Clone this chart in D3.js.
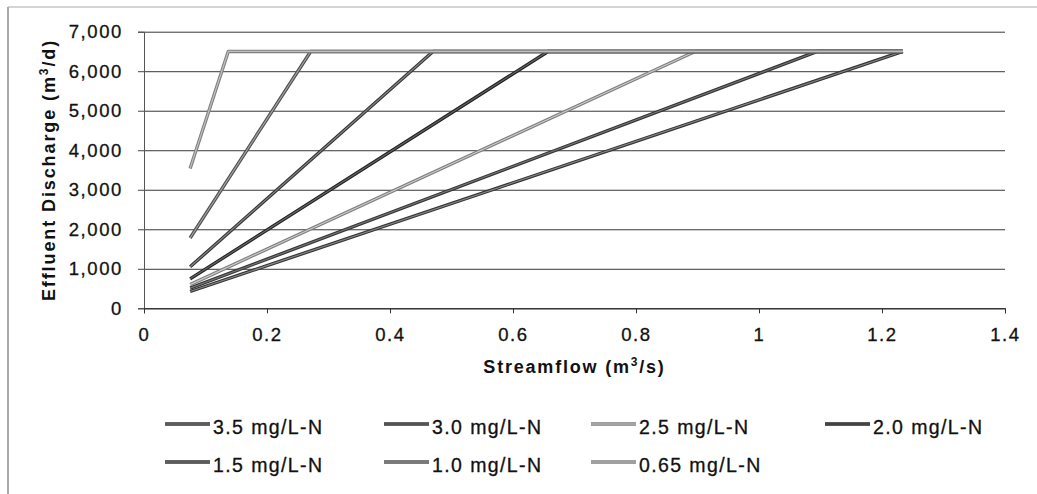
<!DOCTYPE html>
<html>
<head>
<meta charset="utf-8">
<script src="https://cdn.jsdelivr.net/npm/d3@7"></script>
<style>
  body { margin: 0; background: #fff; }
  text { font-family: "Liberation Sans", Arial, sans-serif; fill: #111; }
  .scan { stroke: #111; stroke-width: 0.3px; }
</style>
</head>
<body>
<div id="wrapper"></div>
<script>
// Series: each line rises from the first flow to the
// 6,500 m3/d cap, then runs flat along the cap
var seriesLabels = ["3.5 mg/L-N", "3.0 mg/L-N", "2.5 mg/L-N", "2.0 mg/L-N", "1.5 mg/L-N", "1.0 mg/L-N", "0.65 mg/L-N"]
var startFlow = [0.075, 0.075, 0.075, 0.075, 0.075, 0.075, 0.075]
var startDischarge = [425, 510, 600, 745, 1050, 1780, 3540]
var capFlow = [1.234, 1.095, 0.896, 0.657, 0.470, 0.271, 0.137]
var capDischarge = [6500, 6500, 6500, 6500, 6500, 6500, 6500]
var endFlow = [1.234, 1.234, 1.234, 1.234, 1.234, 1.234, 1.234]

var xTicks = [0, 0.2, 0.4, 0.6, 0.8, 1, 1.2, 1.4]
var yTicks = [0, 1000, 2000, 3000, 4000, 5000, 6000, 7000]

// grey print styles: outer stroke and a lighter core
var outerColor = ["#333", "#333", "#7e7e7e", "#222", "#333", "#505050", "#808080"]
var innerColor = ["#858585", "#757575", "#cacaca", "#666", "#858585", "#a2a2a2", "#c0c0c0"]

var W = 1037, H = 494
var margin = { top: 31.7, right: 32, bottom: 185.7, left: 144 },
  width = W - margin.left - margin.right,
  height = H - margin.top - margin.bottom

var root = d3.select("#wrapper")
  .append("svg")
  .attr("width", W)
  .attr("height", H)

// chart frame (only the left and top edges are in the picture)
root.append("line").attr("x1", 8).attr("x2", 8).attr("y1", 7).attr("y2", H)
  .attr("stroke", "#555").attr("stroke-width", 1)
root.append("line").attr("x1", 8).attr("x2", W).attr("y1", 7).attr("y2", 7)
  .attr("stroke", "#aaa").attr("stroke-width", 1)

var svg = root.append("g")
  .attr("transform", "translate(" + margin.left + "," + margin.top + ")")

var x = d3.scaleLinear().domain([0, 1.4]).range([0, width])
var y = d3.scaleLinear().domain([0, 7000]).range([height, 0])

// Gridlines
svg.append("g")
  .attr("class", "grid")
  .call(d3.axisLeft(y).tickValues(yTicks).tickSize(-width).tickFormat(""))
  .call(g => g.select(".domain").remove())
  .selectAll("line")
  .attr("stroke", "#383838")
  .attr("stroke-width", 1)

// Y axis
var yAxis = svg.append("g")
  .call(d3.axisLeft(y).tickValues(yTicks).tickSize(6).tickPadding(15).tickFormat(d3.format(",")))
yAxis.select(".domain").attr("stroke", "#555")
yAxis.selectAll(".tick line").attr("stroke", "#444")
yAxis.selectAll("text")
  .attr("class", "scan")
  .style("font-size", "18.5px")
  .style("letter-spacing", "1.6px")
  .style("font-family", "'Liberation Sans', Arial, sans-serif")
  .attr("fill", "#111")

// X axis
var xAxis = svg.append("g")
  .attr("transform", "translate(0," + height + ")")
  .call(d3.axisBottom(x).tickValues(xTicks).tickSize(5).tickPadding(15).tickFormat(d3.format(".1~f")))
xAxis.select(".domain").attr("stroke", "#222")
xAxis.selectAll(".tick line").attr("stroke", "#333")
xAxis.selectAll("text")
  .attr("class", "scan")
  .style("font-size", "18.5px")
  .style("letter-spacing", "1.6px")
  .style("font-family", "'Liberation Sans', Arial, sans-serif")
  .attr("fill", "#111")

// Axis titles
svg.append("text")
  .attr("x", width / 2)
  .attr("y", height + 65)
  .style("text-anchor", "middle")
  .style("font-size", "18px")
  .style("font-weight", "bold")
  .style("letter-spacing", "1.8px")
  .html("Streamflow (m<tspan font-size='12px' dy='-7'>3</tspan><tspan dy='7'>/s)</tspan>")

svg.append("text")
  .attr("transform", "translate(" + (55 - margin.left) + "," + (height / 2) + ") rotate(-90)")
  .style("text-anchor", "middle")
  .style("font-size", "18px")
  .style("font-weight", "bold")
  .style("letter-spacing", "1.9px")
  .html("Effluent Discharge (m<tspan font-size='12px' dy='-7'>3</tspan><tspan dy='7'>/d)</tspan>")

// Lines
var series = seriesLabels.map(function (name, i) {
  return {
    name: name,
    i: i,
    points: [
      [startFlow[i], startDischarge[i]],
      [capFlow[i], capDischarge[i]],
      [endFlow[i], capDischarge[i]]
    ]
  }
})

var line = d3.line()
  .x(d => x(d[0]))
  .y(d => y(d[1]))

var lines = svg.append("g")
  .selectAll("g")
  .data(series)
  .enter()
  .append("g")

lines.append("path")
  .attr("d", d => line(d.points))
  .attr("fill", "none")
  .attr("stroke", d => outerColor[d.i])
  .attr("stroke-width", 3.4)
  .attr("stroke-linejoin", "round")

lines.append("path")
  .attr("d", d => line(d.points))
  .attr("fill", "none")
  .attr("stroke", d => innerColor[d.i])
  .attr("stroke-width", 1.2)
  .attr("stroke-linejoin", "round")

// Legend (4 columns, 2 rows)
var legendX = [165, 384, 591, 825]
var legendY = [424, 462]

var legend = root.append("g")
  .selectAll("g")
  .data(series)
  .enter()
  .append("g")
  .attr("transform", d => "translate(" + legendX[d.i % 4] + "," + legendY[Math.floor(d.i / 4)] + ")")

legend.append("line")
  .attr("x1", 0).attr("x2", 45)
  .attr("stroke", d => outerColor[d.i])
  .attr("stroke-width", 3.4)
legend.append("line")
  .attr("x1", 0).attr("x2", 45)
  .attr("stroke", d => innerColor[d.i])
  .attr("stroke-width", 1.2)

legend.append("text")
  .attr("class", "scan")
  .attr("x", 48)
  .attr("y", 10)
  .style("font-size", "19.5px")
  .style("letter-spacing", "1.4px")
  .text(d => d.name)
</script>
</body>
</html>
